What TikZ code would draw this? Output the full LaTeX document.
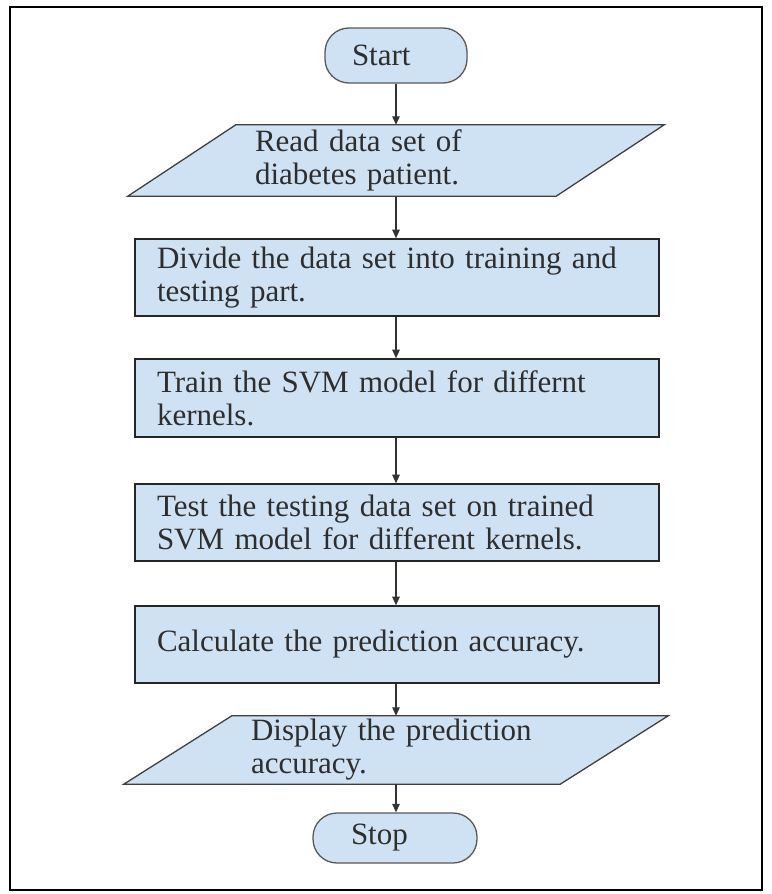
\documentclass[tikz,border=0pt]{standalone}
\usepackage{fontspec}
\setmainfont{Liberation Serif}
\usetikzlibrary{arrows.meta,backgrounds}
\definecolor{boxfill}{HTML}{CFE2F3}
\begin{document}
\begin{tikzpicture}[x=1pt,y=-1pt,
  every node/.style={font=\fontsize{31}{33}\selectfont, text=black!82},
  term/.style={draw=black!65, line width=1.3pt, fill=boxfill, rounded corners=24pt,
    align=left, inner ysep=0pt},
  procbox/.style={draw=black!85, line width=1.6pt, fill=boxfill, minimum width=524pt,
    text width=480pt, inner xsep=22pt, inner ysep=0pt, align=left},
  iobox/.style={inner ysep=0pt, align=left},
  iofill/.style={draw=black!75, line width=1.3pt, fill=boxfill},
  arr/.style={draw=black!80, line width=1.2pt, -{Triangle[length=8.5pt,width=7.5pt]}}
]
\useasboundingbox (0,0) rectangle (771,894);
\draw[line width=2.8pt] (10,7) rectangle (762,890);

\node[term, minimum height=55pt, text width=88pt, inner xsep=27pt] (start) at (396,55.5) {Start};
\node[iobox, minimum height=71pt, text width=282pt, inner xsep=73pt] (read) at (396,160.5)
  {Read data set of\\diabetes patient.};
\node[procbox, minimum height=77pt] (divide) at (397,277.5)
  {Divide the data set into training and\\testing part.};
\node[procbox, minimum height=78pt] (train) at (397,398)
  {Train the SVM model for differnt\\kernels.};
\node[procbox, minimum height=77pt] (test) at (397,522.5)
  {Test the testing data set on trained\\SVM model for different kernels.};
\node[procbox, minimum height=77pt] (calc) at (397,644.5)
  {Calculate the prediction accuracy.};
\node[iobox, minimum height=68pt, text width=290pt, inner xsep=73pt] (disp) at (396,750)
  {Display the prediction\\accuracy.};
\node[term, minimum height=50pt, text width=88pt, inner xsep=38pt] (stop) at (395,838) {Stop};

\begin{scope}[on background layer]
  \draw[iofill] ([xshift=54pt]read.north west) -- ([xshift=54pt]read.north east)
    -- ([xshift=-54pt]read.south east) -- ([xshift=-54pt]read.south west) -- cycle;
  \draw[iofill] ([xshift=54pt]disp.north west) -- ([xshift=54pt]disp.north east)
    -- ([xshift=-54pt]disp.south east) -- ([xshift=-54pt]disp.south west) -- cycle;
\end{scope}

\draw[arr] (start.south) -- (start.south |- read.north);
\draw[arr] (read.south) -- (read.south |- divide.north);
\draw[arr] (read.south |- divide.south) -- (read.south |- train.north);
\draw[arr] (read.south |- train.south) -- (read.south |- test.north);
\draw[arr] (read.south |- test.south) -- (read.south |- calc.north);
\draw[arr] (read.south |- calc.south) -- (disp.north);
\draw[arr] (disp.south) -- (disp.south |- stop.north);
\end{tikzpicture}
\end{document}
